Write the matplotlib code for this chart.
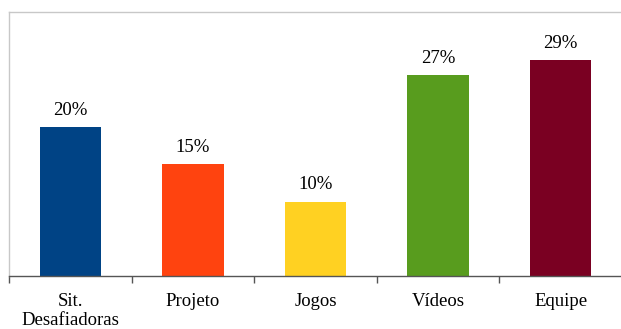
import numpy as np
import matplotlib.pyplot as plt

plt.rcParams['font.family'] = ['Liberation Serif', 'DejaVu Serif']

categorias = ["Sit.\nDesafiadoras", "Projeto", "Jogos", "Vídeos", "Equipe"]
valores = [20, 15, 10, 27, 29]
cores = ["#004385", "#ff430f", "#ffd122", "#589c1e", "#7a0022"]

fig = plt.figure(figsize=(6.21, 3.29), dpi=100)
ax = fig.add_axes([9 / 621, 0.161, 613 / 621, 0.8025])

x = np.arange(len(categorias))
barras = ax.bar(x, valores, width=0.5, color=cores)

# rótulos de percentagem acima de cada barra
for xi, v in zip(x, valores):
    ax.text(xi, v + 1.1, f"{v}%", ha="center", va="bottom", fontsize=13.5)

ax.set_xlim(-0.5, len(categorias) - 0.5)
ax.set_ylim(0, 35.5)
ax.set_yticks([])

# ticks nas divisões entre categorias, nomes no centro
ax.set_xticks(np.arange(len(categorias) + 1) - 0.5)
ax.set_xticklabels([])
ax.set_xticks(x, minor=True)
ax.set_xticklabels(categorias, minor=True, fontsize=13.5, linespacing=1.2)
ax.tick_params(axis="x", which="major", length=5, color="#555555", width=1)
ax.tick_params(axis="x", which="minor", length=0, pad=12)

for lado in ["top", "left", "right"]:
    ax.spines[lado].set_color("#c8c8c8")
    ax.spines[lado].set_linewidth(1)
ax.spines["bottom"].set_color("#555555")
ax.spines["bottom"].set_linewidth(1)

fig.savefig("out.png", dpi=100)
